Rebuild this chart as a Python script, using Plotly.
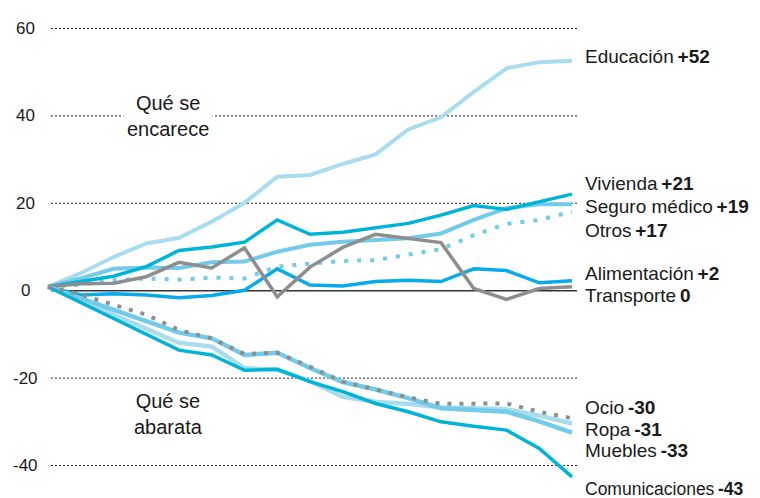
import plotly.graph_objects as go

# ---------- data (variación acumulada de precios, %) ----------
periodo = list(range(17))

educacion = [0.9, 4.0, 7.7, 10.8, 12.1, 15.8, 20.1, 26.1, 26.5, 29.0, 31.2, 36.9, 39.7, 45.5, 50.9, 52.3, 52.6]
vivienda = [0.9, 2.1, 3.3, 5.5, 9.2, 10.0, 11.1, 16.2, 12.9, 13.4, 14.3, 15.4, 17.3, 19.5, 18.6, 20.4, 22.1]
seguro_medico = [0.9, 2.8, 5.0, 5.3, 5.2, 6.5, 6.7, 8.9, 10.5, 11.2, 11.6, 12.0, 13.1, 16.2, 18.9, 19.8, 19.8]
otros = [0.9, 1.4, 2.4, 2.8, 2.5, 3.0, 2.8, 5.5, 6.2, 6.8, 7.0, 8.2, 9.5, 12.7, 15.3, 16.2, 18.1]
alimentacion = [0.9, -1.0, -0.7, -1.0, -1.6, -1.1, 0.1, 5.0, 1.3, 1.1, 2.1, 2.4, 2.1, 5.0, 4.6, 1.8, 2.3]
transporte = [0.9, 1.6, 1.7, 3.2, 6.5, 5.2, 9.8, -1.4, 5.4, 9.9, 12.9, 12.0, 11.0, 0.5, -2.0, 0.5, 0.9]
ocio = [0.9, -0.9, -3.2, -5.5, -9.0, -10.9, -14.5, -14.2, -17.4, -20.8, -22.6, -24.4, -25.9, -25.9, -25.8, -27.7, -29.2]
ropa = [0.9, -2.3, -5.5, -8.7, -11.9, -12.8, -17.7, -18.1, -20.7, -24.3, -25.4, -25.9, -26.7, -26.9, -27.1, -28.6, -30.4]
muebles = [0.9, -1.7, -4.3, -6.9, -9.6, -10.9, -14.7, -14.2, -17.7, -20.9, -22.6, -24.6, -26.9, -27.3, -27.7, -29.9, -32.5]
comunicaciones = [0.9, -2.7, -6.3, -9.9, -13.6, -14.7, -18.2, -18.0, -20.8, -23.1, -25.8, -27.7, -30.0, -31.0, -31.9, -36.1, -42.6]

nombres = ["Educación", "Vivienda", "Seguro médico", "Otros", "Alimentación",
           "Transporte", "Ocio", "Ropa", "Muebles", "Comunicaciones"]
etiquetas_valor = ["+52", "+21", "+19", "+17", "+2", "0", "-30", "-31", "-33", "-43"]

y_ticks = [60, 40, 20, 0, -20, -40]

# ---------- styles ----------
LIGHT = "#a9dcef"
MEDIUM = "#72cbe8"
CYAN = "#00b4d8"
BLUE = "#08aaea"
GREY = "#8e8e8e"
INK = "#1a1a1a"
FONT = "Liberation Sans, Arial, sans-serif"

series = {
    "Educación": (educacion, LIGHT, 4, "solid"),
    "Seguro médico": (seguro_medico, MEDIUM, 4, "solid"),
    "Otros": (otros, MEDIUM, 4, "4px,9px"),
    "Vivienda": (vivienda, CYAN, 3.5, "solid"),
    "Alimentación": (alimentacion, BLUE, 3.5, "solid"),
    "Transporte": (transporte, GREY, 3.5, "solid"),
    "Ropa": (ropa, LIGHT, 4.5, "solid"),
    "Muebles": (muebles, MEDIUM, 4.5, "solid"),
    "Comunicaciones": (comunicaciones, CYAN, 3.5, "solid"),
    "Ocio": (ocio, GREY, 4, "4px,8px"),
}

# label vertical positions (in axis units) so they don't overlap
label_pos = {
    "Educación": 53.5, "Vivienda": 24.6, "Seguro médico": 19.2, "Otros": 13.7,
    "Alimentación": 4.0, "Transporte": -1.2, "Ocio": -26.8, "Ropa": -31.8,
    "Muebles": -36.6, "Comunicaciones": -45.3,
}

# page body has an 8px margin, so the figure is 8px smaller than the window
W, H = 752, 490
X0_PX, DX_PX = 40, 32.75       # first point / step in pixels
Y0_PX, DY_PX = 282.7, 4.37     # zero line / px per unit

fig = go.Figure()
for name, (vals, color, width, dash) in series.items():
    fig.add_trace(go.Scatter(
        x=periodo, y=vals, mode="lines", name=name,
        line=dict(color=color, width=width, dash=dash),
        hoverinfo="skip",
    ))

# gridlines
for t in y_ticks:
    fig.add_shape(
        type="line", xref="paper", yref="y",
        x0=43 / W, x1=569 / W, y0=t, y1=t,
        line=dict(color="#333333" if t == 0 else "#222222",
                  width=1.5 if t == 0 else 1,
                  dash="solid" if t == 0 else "2px,2px"),
        layer="below",
    )
    fig.add_annotation(
        x=17 / W, xref="paper", y=t, yref="y", text=str(t),
        showarrow=False, xanchor="center", yanchor="middle",
        font=dict(size=17, color=INK, family=FONT),
    )

# end labels (the long one a bit smaller so it fits the page)
for name, val in zip(nombres, etiquetas_valor):
    size = 17.5 if name == "Comunicaciones" else 19
    fig.add_annotation(
        x=575 / W, xref="paper", y=label_pos[name], yref="y",
        text=f"{name}\u2009<b>{val}</b>", showarrow=False,
        xanchor="left", yanchor="middle",
        font=dict(size=size, color=INK, family=FONT),
    )

fig.add_annotation(
    x=160 / W, xref="paper", y=40, yref="y", text="Qué se<br>encarece",
    showarrow=False, xanchor="center", yanchor="middle", align="center",
    bgcolor="white", borderpad=3,
    font=dict(size=20, color=INK, family=FONT),
)
fig.add_annotation(
    x=160 / W, xref="paper", y=-28.2, yref="y", text="Qué se<br>abarata",
    showarrow=False, xanchor="center", yanchor="middle", align="center",
    font=dict(size=20, color=INK, family=FONT),
)

fig.update_layout(
    width=W, height=H,
    margin=dict(l=0, r=0, t=0, b=0),
    paper_bgcolor="white", plot_bgcolor="white",
    showlegend=False,
    xaxis=dict(visible=False, range=[-X0_PX / DX_PX, (W - X0_PX) / DX_PX]),
    yaxis=dict(visible=False, range=[-(H - Y0_PX) / DY_PX, Y0_PX / DY_PX]),
)

fig.write_html("out.html")
